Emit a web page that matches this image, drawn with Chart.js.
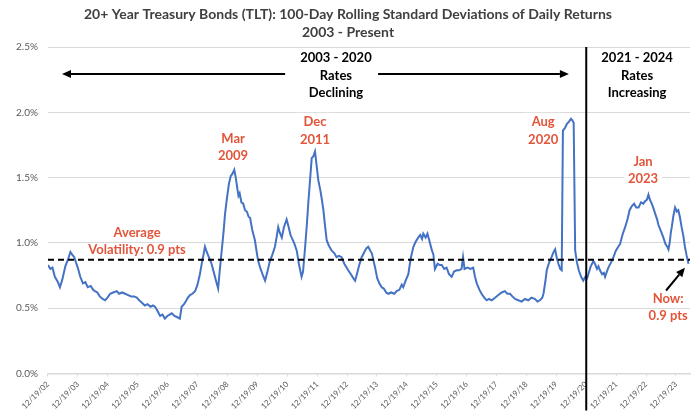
<!DOCTYPE html>
<html>
<head>
<meta charset="utf-8">
<script src="https://cdn.jsdelivr.net/npm/chart.js@4.4.1/dist/chart.umd.min.js"></script>
<style>
  html, body { margin: 0; padding: 0; background: #fff; }
  #wrap { width: 700px; height: 418px; }
</style>
</head>
<body>
<div id="wrap"><canvas id="tltChart"></canvas></div>
<script>
// dates as decimal years, values in % (100-day rolling std dev of daily returns)
const years = [
  2002.97, 2003.05, 2003.12, 2003.20, 2003.30, 2003.37, 2003.45, 2003.55, 2003.65, 2003.72,
  2003.78, 2003.85, 2003.92, 2003.98, 2004.05, 2004.14, 2004.22, 2004.30, 2004.40, 2004.48,
  2004.54, 2004.62, 2004.70, 2004.80, 2004.88, 2004.96, 2005.05, 2005.15, 2005.27, 2005.35,
  2005.45, 2005.55, 2005.65, 2005.75, 2005.85, 2005.94, 2006.02, 2006.12, 2006.21, 2006.30,
  2006.40, 2006.48, 2006.55, 2006.63, 2006.72, 2006.80, 2006.88, 2006.96, 2007.04, 2007.11,
  2007.20, 2007.30, 2007.38, 2007.44, 2007.52, 2007.60, 2007.65, 2007.72, 2007.80, 2007.89,
  2007.97, 2008.05, 2008.12, 2008.18, 2008.22, 2008.28, 2008.35, 2008.44, 2008.52, 2008.60,
  2008.66, 2008.72, 2008.78, 2008.84, 2008.89, 2008.96, 2009.02, 2009.08, 2009.14, 2009.20,
  2009.25, 2009.30, 2009.34, 2009.38, 2009.44, 2009.50, 2009.56, 2009.62, 2009.68, 2009.73,
  2009.80, 2009.89, 2009.95, 2010.00, 2010.08, 2010.16, 2010.23, 2010.30, 2010.39, 2010.46,
  2010.56, 2010.62, 2010.67, 2010.72, 2010.79, 2010.86, 2010.95, 2011.02, 2011.08, 2011.12,
  2011.20, 2011.29, 2011.36, 2011.45, 2011.50, 2011.57, 2011.63, 2011.68, 2011.74, 2011.79,
  2011.84, 2011.90, 2011.96, 2012.01, 2012.08, 2012.13, 2012.18, 2012.24, 2012.29, 2012.36,
  2012.46, 2012.55, 2012.62, 2012.70, 2012.79, 2012.88, 2013.01, 2013.10, 2013.18, 2013.24,
  2013.30, 2013.38, 2013.46, 2013.55, 2013.62, 2013.68, 2013.75, 2013.80, 2013.86, 2013.91,
  2013.98, 2014.05, 2014.13, 2014.20, 2014.28, 2014.35, 2014.45, 2014.55, 2014.63, 2014.72,
  2014.80, 2014.85, 2014.93, 2015.02, 2015.10, 2015.19, 2015.27, 2015.35, 2015.42, 2015.48,
  2015.52, 2015.60, 2015.66, 2015.72, 2015.80, 2015.86, 2015.91, 2016.00, 2016.07, 2016.14,
  2016.22, 2016.30, 2016.38, 2016.47, 2016.55, 2016.64, 2016.72, 2016.80, 2016.85, 2016.90,
  2017.00, 2017.10, 2017.19, 2017.25, 2017.31, 2017.40, 2017.47, 2017.56, 2017.64, 2017.72,
  2017.81, 2017.92, 2018.03, 2018.14, 2018.25, 2018.33, 2018.42, 2018.50, 2018.59, 2018.70,
  2018.81, 2018.92, 2019.03, 2019.14, 2019.26, 2019.34, 2019.42, 2019.50, 2019.54, 2019.60,
  2019.65, 2019.73, 2019.81, 2019.88, 2019.93, 2019.99, 2020.04, 2020.10, 2020.15, 2020.19,
  2020.26, 2020.32, 2020.40, 2020.46, 2020.50, 2020.55, 2020.60, 2020.66, 2020.72, 2020.80,
  2020.87, 2020.94, 2021.00, 2021.04, 2021.12, 2021.21, 2021.26, 2021.33, 2021.38, 2021.43,
  2021.50, 2021.56, 2021.60, 2021.66, 2021.71, 2021.80, 2021.88, 2021.96, 2022.04, 2022.10,
  2022.18, 2022.27, 2022.35, 2022.42, 2022.49, 2022.57, 2022.64, 2022.72, 2022.80, 2022.88,
  2022.94, 2023.00, 2023.05, 2023.10, 2023.16, 2023.21, 2023.28, 2023.34, 2023.38, 2023.45,
  2023.50, 2023.55, 2023.62, 2023.68, 2023.72, 2023.76, 2023.80, 2023.83, 2023.88, 2023.94,
  2024.00, 2024.05, 2024.10, 2024.16, 2024.22, 2024.27, 2024.33, 2024.39
];
const volatility = [
  0.83, 0.80, 0.81, 0.74, 0.70, 0.66, 0.72, 0.82, 0.88, 0.93,
  0.91, 0.89, 0.84, 0.80, 0.74, 0.69, 0.70, 0.66, 0.67, 0.64,
  0.63, 0.62, 0.59, 0.57, 0.56, 0.58, 0.61, 0.62, 0.63, 0.61,
  0.62, 0.61, 0.60, 0.59, 0.59, 0.58, 0.56, 0.54, 0.52, 0.53,
  0.51, 0.52, 0.51, 0.48, 0.44, 0.45, 0.42, 0.44, 0.45, 0.46,
  0.44, 0.43, 0.42, 0.51, 0.53, 0.56, 0.58, 0.60, 0.61, 0.63,
  0.68, 0.76, 0.85, 0.92, 0.97, 0.93, 0.89, 0.84, 0.77, 0.70,
  0.65, 0.80, 0.94, 1.08, 1.22, 1.35, 1.45, 1.51, 1.53, 1.56,
  1.50, 1.42, 1.36, 1.38, 1.31, 1.30, 1.25, 1.24, 1.20, 1.19,
  1.10, 1.02, 0.93, 0.86, 0.80, 0.75, 0.71, 0.77, 0.86, 0.90,
  0.97, 1.05, 1.12, 1.08, 1.04, 1.12, 1.18, 1.12, 1.06, 1.04,
  1.00, 0.94, 0.84, 0.74, 0.78, 0.97, 1.15, 1.32, 1.50, 1.65,
  1.66, 1.70, 1.58, 1.48, 1.40, 1.33, 1.25, 1.12, 1.02, 0.98,
  0.94, 0.92, 0.89, 0.90, 0.89, 0.84, 0.79, 0.76, 0.73, 0.71,
  0.76, 0.83, 0.89, 0.93, 0.96, 0.97, 0.94, 0.92, 0.86, 0.81,
  0.73, 0.69, 0.66, 0.65, 0.62, 0.61, 0.62, 0.61, 0.63, 0.64,
  0.68, 0.66, 0.71, 0.76, 0.88, 0.97, 1.01, 1.04, 1.06, 1.03,
  1.07, 1.04, 1.07, 1.02, 0.95, 0.91, 0.80, 0.84, 0.83, 0.83,
  0.80, 0.81, 0.76, 0.74, 0.78, 0.79, 0.79, 0.80, 0.89, 0.80,
  0.81, 0.80, 0.81, 0.74, 0.69, 0.64, 0.61, 0.58, 0.56, 0.57,
  0.56, 0.58, 0.60, 0.62, 0.63, 0.61, 0.61, 0.59, 0.57, 0.56,
  0.55, 0.57, 0.56, 0.58, 0.57, 0.55, 0.56, 0.58, 0.61, 0.70,
  0.79, 0.85, 0.89, 0.93, 0.95, 0.88, 0.84, 0.80, 0.79, 1.86,
  1.88, 1.91, 1.93, 1.95, 1.94, 1.92, 0.94, 0.85, 0.79, 0.74,
  0.71, 0.74, 0.73, 0.76, 0.82, 0.86, 0.84, 0.80, 0.82, 0.79,
  0.76, 0.77, 0.74, 0.78, 0.81, 0.85, 0.89, 0.94, 0.97, 0.99,
  1.06, 1.12, 1.18, 1.25, 1.28, 1.30, 1.27, 1.27, 1.31, 1.30,
  1.32, 1.33, 1.37, 1.33, 1.30, 1.27, 1.22, 1.18, 1.14, 1.10,
  1.07, 1.04, 0.99, 0.97, 0.95, 1.00, 1.08, 1.12, 1.20, 1.27,
  1.24, 1.25, 1.20, 1.12, 1.05, 0.97, 0.90, 0.84
];
const tickYears = [
  2002.97, 2003.97, 2004.97, 2005.97, 2006.97, 2007.97, 2008.97, 2009.97, 2010.97, 2011.97, 2012.97,
  2013.97, 2014.97, 2015.97, 2016.97, 2017.97, 2018.97, 2019.97, 2020.97, 2021.97, 2022.97, 2023.97
];
const tickLabels = [
  '12/19/02', '12/19/03', '12/19/04', '12/19/05', '12/19/06', '12/19/07', '12/19/08', '12/19/09',
  '12/19/10', '12/19/11', '12/19/12', '12/19/13', '12/19/14', '12/19/15', '12/19/16', '12/19/17',
  '12/19/18', '12/19/19', '12/19/20', '12/19/21', '12/19/22', '12/19/23'
];
const averageVol = 0.87;
const regimeSplit = 2020.97;

const RED = '#E2553A';
const FONT = 'Lato, "Open Sans", sans-serif';

// text notes, placed in data coordinates
const notes = [
  { lines: ['2003 - 2020', 'Rates', 'Declining'], x: 2012.6, y: 2.416, color: '#000', bg: true },
  { lines: ['2021 - 2024', 'Rates', 'Increasing'], x: 2022.67, y: 2.416, color: '#000', bg: true },
  { lines: ['Mar', '2009'], x: 2009.16, y: 1.797, color: RED, bg: true },
  { lines: ['Dec', '2011'], x: 2011.9, y: 1.927, color: RED, bg: true },
  { lines: ['Aug', '2020'], x: 2019.53, y: 1.927, color: RED, bg: true },
  { lines: ['Jan', '2023'], x: 2022.87, y: 1.621, color: RED, bg: true },
  { lines: ['Average', 'Volatility: 0.9 pts'], x: 2005.95, y: 1.078, color: RED, bg: false },
  { lines: ['Now:', '0.9 pts'], x: 2023.71, y: 0.573, color: RED, bg: false }
];
const arrows = [
  { from: [2010.9, 2.294], to: [2003.44, 2.294] },
  { from: [2014.01, 2.294], to: [2020.39, 2.294] },
  { from: [2023.64, 0.635], to: [2024.27, 0.81] }
];

function drawArrow(ctx, x1, y1, x2, y2) {
  const a = Math.atan2(y2 - y1, x2 - x1);
  const len = 9, half = 4;
  ctx.beginPath();
  ctx.moveTo(x1, y1);
  ctx.lineTo(x2 - Math.cos(a) * len, y2 - Math.sin(a) * len);
  ctx.stroke();
  ctx.beginPath();
  ctx.moveTo(x2, y2);
  ctx.lineTo(x2 - Math.cos(a) * len - Math.sin(a) * half, y2 - Math.sin(a) * len + Math.cos(a) * half);
  ctx.lineTo(x2 - Math.cos(a) * len + Math.sin(a) * half, y2 - Math.sin(a) * len - Math.cos(a) * half);
  ctx.closePath();
  ctx.fill();
}

const overlay = {
  id: 'overlay',
  beforeDatasetsDraw(chart) {
    const { ctx, scales: { x, y } } = chart;
    ctx.save();
    ctx.strokeStyle = '#000';
    ctx.fillStyle = '#000';
    ctx.lineWidth = 2;
    arrows.forEach(ar => {
      drawArrow(ctx, x.getPixelForValue(ar.from[0]), y.getPixelForValue(ar.from[1]),
        x.getPixelForValue(ar.to[0]), y.getPixelForValue(ar.to[1]));
    });
    ctx.font = 'bold 13px ' + FONT;
    ctx.textAlign = 'center';
    ctx.textBaseline = 'middle';
    const lh = 17.5;
    notes.forEach(n => {
      const px = x.getPixelForValue(n.x);
      const py = y.getPixelForValue(n.y);
      if (n.bg) {
        const w = Math.max(...n.lines.map(l => ctx.measureText(l).width)) + 8;
        ctx.fillStyle = '#fff';
        ctx.fillRect(px - w / 2, py - 9, w, lh * n.lines.length + 2);
      }
      ctx.fillStyle = n.color;
      n.lines.forEach((l, i) => ctx.fillText(l, px, py + i * lh));
    });
    ctx.restore();
  },
  afterDatasetsDraw(chart) {
    const { ctx, chartArea, scales: { x, y } } = chart;
    ctx.save();
    ctx.strokeStyle = '#000';
    ctx.lineWidth = 2;
    ctx.setLineDash([6, 4]);
    const ay = y.getPixelForValue(averageVol);
    ctx.beginPath();
    ctx.moveTo(chartArea.left, ay);
    ctx.lineTo(chartArea.right, ay);
    ctx.stroke();
    ctx.setLineDash([]);
    const vx = x.getPixelForValue(regimeSplit);
    ctx.beginPath();
    ctx.moveTo(vx, chartArea.top);
    ctx.lineTo(vx, chartArea.bottom + 37);
    ctx.stroke();
    ctx.restore();
  }
};

new Chart(document.getElementById('tltChart'), {
  type: 'line',
  data: {
    datasets: [{
      data: years.map((yr, i) => ({ x: yr, y: volatility[i] })),
      borderColor: '#4472C4',
      borderWidth: 2,
      pointRadius: 0,
      tension: 0,
      fill: false
    }]
  },
  options: {
    responsive: true,
    maintainAspectRatio: false,
    animation: false,
    layout: { padding: { left: 6, right: 10, top: 0, bottom: 4 } },
    plugins: {
      legend: { display: false },
      tooltip: { enabled: false },
      title: {
        display: true,
        text: ['20+ Year Treasury Bonds (TLT): 100-Day Rolling Standard Deviations of Daily Returns', '2003 - Present'],
        color: '#404040',
        font: { family: FONT, size: 14, weight: 'bold', lineHeight: 1.25 },
        padding: { top: 6, bottom: 6 }
      }
    },
    scales: {
      x: {
        type: 'linear',
        min: 2002.97,
        max: 2024.44,
        afterBuildTicks: scale => { scale.ticks = tickYears.map(v => ({ value: v })); },
        ticks: {
          autoSkip: false,
          minRotation: 45,
          maxRotation: 45,
          color: '#595959',
          font: { family: FONT, size: 8 },
          callback: (value, index) => tickLabels[index]
        },
        grid: { display: true, drawOnChartArea: false, drawTicks: true, tickLength: 3, color: '#d9d9d9' },
        border: { color: '#d9d9d9', width: 1.5 }
      },
      y: {
        min: 0,
        max: 2.5,
        ticks: {
          stepSize: 0.5,
          color: '#595959',
          padding: 10,
          font: { family: FONT, size: 10 },
          callback: v => v.toFixed(1) + '%'
        },
        grid: { color: '#d9d9d9', drawTicks: false },
        border: { display: false }
      }
    }
  },
  plugins: [overlay]
});
</script>
</body>
</html>
